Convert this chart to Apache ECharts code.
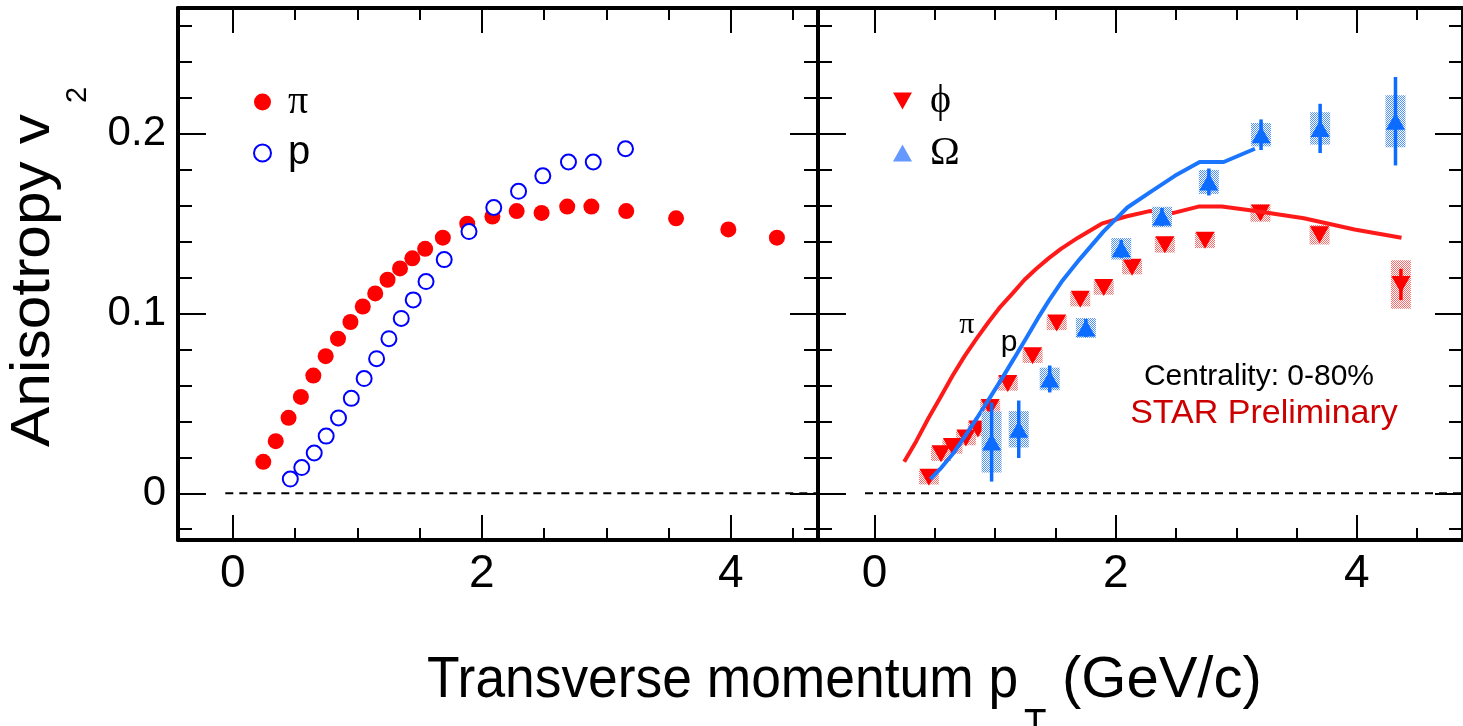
<!DOCTYPE html>
<html>
<head>
<meta charset="utf-8">
<script src="https://cdn.jsdelivr.net/npm/echarts@6/dist/echarts.min.js"></script>
<style>
  html, body { margin: 0; padding: 0; background: #fff; }
  #chart { width: 1463px; height: 726px; }
</style>
</head>
<body>
<div id="chart"></div>
<script>
// left panel: pion and proton v2 vs pT
const pionPt = [0.245, 0.345, 0.448, 0.547, 0.647, 0.746, 0.845, 0.945, 1.044, 1.144, 1.243, 1.343, 1.442, 1.545, 1.687, 1.883, 2.085, 2.28, 2.48, 2.686, 2.88, 3.16, 3.56, 3.98, 4.37];
const pionV2 = [0.0175, 0.029, 0.042, 0.0536, 0.0655, 0.0763, 0.086, 0.0953, 0.1039, 0.1112, 0.1188, 0.1251, 0.1307, 0.136, 0.1422, 0.150, 0.154, 0.157, 0.156, 0.1595, 0.1595, 0.157, 0.153, 0.1468, 0.1422];
const protonPt = [0.462, 0.554, 0.654, 0.75, 0.849, 0.952, 1.055, 1.155, 1.254, 1.353, 1.449, 1.552, 1.698, 1.897, 2.096, 2.295, 2.49, 2.696, 2.895, 3.154];
const protonV2 = [0.0079, 0.0143, 0.0224, 0.0318, 0.0419, 0.0528, 0.0638, 0.0749, 0.086, 0.0973, 0.1076, 0.1178, 0.130, 0.1456, 0.159, 0.168, 0.1766, 0.1843, 0.1843, 0.1917];

// right panel: phi and Omega v2 with stat / sys errors
const phiPt = [0.45, 0.55, 0.645, 0.757, 0.856, 0.958, 1.104, 1.31, 1.51, 1.705, 1.90, 2.135, 2.407, 2.74, 3.20, 3.69, 4.365];
const phiV2 = [0.0089, 0.022, 0.026, 0.0307, 0.0357, 0.0477, 0.0611, 0.0765, 0.0948, 0.108, 0.1145, 0.1258, 0.1383, 0.1408, 0.1559, 0.1438, 0.1162];
const phiStat = [0.002, 0.002, 0.002, 0.002, 0.002, 0.002, 0.002, 0.002, 0.002, 0.002, 0.002, 0.002, 0.002, 0.002, 0.002, 0.003, 0.0087];
const phiSys = [0.004, 0.004, 0.004, 0.004, 0.004, 0.004, 0.004, 0.004, 0.004, 0.004, 0.004, 0.004, 0.0044, 0.0044, 0.0048, 0.0054, 0.0135];
const omegaPt = [0.97, 1.195, 1.452, 1.752, 2.045, 2.383, 2.772, 3.205, 3.695, 4.32];
const omegaV2 = [0.0285, 0.0356, 0.0636, 0.092, 0.136, 0.1537, 0.1732, 0.1995, 0.203, 0.207];
const omegaStat = [0.022, 0.016, 0.0075, 0.005, 0.005, 0.005, 0.0075, 0.0085, 0.0137, 0.0246];
const omegaSys = [0.017, 0.0101, 0.0063, 0.0055, 0.006, 0.0057, 0.0067, 0.0065, 0.009, 0.0145];

// curve labels in the right panel
const curveLabelNames = ['π', 'p'];
const curveLabelPt = [0.764, 1.114];
const curveLabelV2 = [0.0936, 0.0836];

// ticks
const xMajorTicks = [0, 2, 4];
const xMinorTicks = [0.5, 1, 1.5, 2.5, 3, 3.5, 4.5];
const yMajorTicks = [0, 0.1, 0.2];
const yMinorTicks = [-0.02, 0.02, 0.04, 0.06, 0.08, 0.12, 0.14, 0.16, 0.18, 0.22, 0.24, 0.26];
const zeroLineLeft = [-0.06, 4.7];
const zeroLineRight = [-0.08, 4.88];

const Y_MIN = -0.026, Y_MAX = 0.27;
const SANS = '"Liberation Sans", Arial, sans-serif';
const SERIF = '"Liberation Serif", "DejaVu Serif", serif';

const zip = (a, b) => a.map((v, i) => [v, b[i]]);
const zip4 = (a, b, c, d) => a.map((v, i) => [v, b[i], c[i], d[i]]);

// 1px checkerboard fill like the ROOT hatched boxes
function checker(color) {
  const c = document.createElement('canvas');
  c.width = 2; c.height = 2;
  const ctx = c.getContext('2d');
  ctx.fillStyle = '#fff';
  ctx.fillRect(0, 0, 2, 2);
  ctx.fillStyle = color;
  ctx.fillRect(0, 0, 1, 1);
  ctx.fillRect(1, 1, 1, 1);
  return { image: c, repeat: 'repeat' };
}

const tickStyle = { color: '#000', width: 2 };
const frameLine = { show: true, onZero: false, lineStyle: { color: '#000', width: 4 } };

function xAxes(gridIndex, min, max) {
  const base = { type: 'value', gridIndex, min, max, splitLine: { show: false } };
  const major = { show: true, inside: true, length: 25, customValues: xMajorTicks, lineStyle: tickStyle };
  const minor = { show: true, inside: true, length: 12, customValues: xMinorTicks, lineStyle: tickStyle };
  return [
    { ...base, position: 'bottom', axisLine: frameLine, axisTick: major,
      axisLabel: { show: true, customValues: xMajorTicks, margin: 11, fontSize: 46, fontFamily: SANS, color: '#000' } },
    { ...base, position: 'bottom', axisLine: { show: false, onZero: false }, axisTick: minor, axisLabel: { show: false } },
    { ...base, position: 'top', axisLine: frameLine, axisTick: major, axisLabel: { show: false } },
    { ...base, position: 'top', axisLine: { show: false, onZero: false }, axisTick: minor, axisLabel: { show: false } }
  ];
}

function yAxes(gridIndex, withLabels) {
  const base = { type: 'value', gridIndex, min: Y_MIN, max: Y_MAX, splitLine: { show: false } };
  const major = { show: true, inside: true, length: 28, customValues: yMajorTicks, lineStyle: tickStyle };
  const minor = { show: true, inside: true, length: 14, customValues: yMinorTicks, lineStyle: tickStyle };
  return [
    { ...base, position: 'left', axisLine: frameLine, axisTick: major,
      axisLabel: { show: withLabels, customValues: yMajorTicks, margin: 12, fontSize: 42, fontFamily: SANS, color: '#000',
        formatter: v => (v === 0 ? '0' : v.toFixed(1)) } },
    { ...base, position: 'left', axisLine: { show: false, onZero: false }, axisTick: minor, axisLabel: { show: false } },
    { ...base, position: 'right', axisLine: frameLine, axisTick: major, axisLabel: { show: false } },
    { ...base, position: 'right', axisLine: { show: false, onZero: false }, axisTick: minor, axisLabel: { show: false } }
  ];
}

function zeroLine(xs, axisIdx) {
  return {
    type: 'line', xAxisIndex: axisIdx, yAxisIndex: axisIdx, silent: true, symbol: 'none', clip: true,
    data: xs.map(x => [x, 0]),
    lineStyle: { color: '#000', width: 2, type: [8, 6] }, z: 1
  };
}

function boxes(data, fill, z) {
  return {
    type: 'custom', xAxisIndex: 4, yAxisIndex: 4, silent: true, z,
    encode: { x: 0, y: 1 }, data,
    renderItem: (params, api) => {
      const x = api.value(0), y = api.value(1), s = api.value(3);
      const top = api.coord([x, y + s]);
      const bot = api.coord([x, y - s]);
      return { type: 'rect', shape: { x: top[0] - 10, y: top[1], width: 20, height: bot[1] - top[1] }, style: { fill } };
    }
  };
}

function bars(data, color, z) {
  return {
    type: 'custom', xAxisIndex: 4, yAxisIndex: 4, silent: true, z,
    encode: { x: 0, y: 1 }, data,
    renderItem: (params, api) => {
      const x = api.value(0), y = api.value(1), s = api.value(2);
      const top = api.coord([x, y + s]);
      const bot = api.coord([x, y - s]);
      return { type: 'line', shape: { x1: top[0], y1: top[1], x2: bot[0], y2: bot[1] }, style: { stroke: color, lineWidth: 3.5 } };
    }
  };
}

const phiData = zip4(phiPt, phiV2, phiStat, phiSys);
const omegaData = zip4(omegaPt, omegaV2, omegaStat, omegaSys);
const DOWN_TRI = 'path://M0,0L20,0L10,18Z';
const textStyle = (font, fill, align) => ({ text: '', font, fill, align, verticalAlign: 'middle', textAlign: align, textVerticalAlign: 'middle' });

const chart = echarts.init(document.getElementById('chart'), null, { renderer: 'canvas' });
chart.setOption({
  animation: false,
  backgroundColor: '#fff',
  grid: [
    { left: 178, top: 8, width: 640, height: 532 },
    { left: 818, top: 8, width: 658, height: 532 }
  ],
  xAxis: [...xAxes(0, -0.44, 4.7), ...xAxes(1, -0.47, 4.88)],
  yAxis: [...yAxes(0, true), ...yAxes(1, false)],
  legend: [
    {
      data: [{ name: 'π', icon: 'circle' }, { name: 'p', icon: 'circle' }],
      left: 248, top: 77, orient: 'vertical', itemWidth: 17, itemHeight: 17, itemGap: 11,
      selectedMode: false,
      formatter: n => (n === 'p' ? '{s|p}' : '{g|' + n + '}'),
      textStyle: { rich: {
        g: { fontFamily: SERIF, fontSize: 40, lineHeight: 40, padding: [0, 0, 0, 12], color: '#000' },
        s: { fontFamily: SANS, fontSize: 40, lineHeight: 40, padding: [0, 0, 0, 12], color: '#000' }
      } }
    },
    {
      data: [{ name: 'ϕ', icon: DOWN_TRI }, { name: 'Ω', icon: 'triangle', itemStyle: { color: '#6699ff' } }],
      left: 888, top: 76, orient: 'vertical', itemWidth: 19, itemHeight: 17, itemGap: 12,
      selectedMode: false,
      formatter: n => '{g|' + n + '}',
      textStyle: { rich: {
        g: { fontFamily: SERIF, fontSize: 40, lineHeight: 40, padding: [0, 0, 0, 13], color: '#000' }
      } }
    }
  ],
  graphic: [
    { type: 'group', x: 33.5, y: 447, rotation: Math.PI / 2, children: [
      { type: 'text', x: 0, y: 0, scaleX: 1.1, style: { ...textStyle('55px ' + SANS, '#000', 'left'), text: 'Anisotropy v' } },
      { type: 'text', x: 344, y: 44, style: { ...textStyle('29px ' + SANS, '#000', 'left'), text: '2' } }
    ] },
    { type: 'text', x: 427, y: 681, scaleX: 0.92, style: { ...textStyle('58px ' + SANS, '#000', 'left'), text: 'Transverse momentum p' } },
    { type: 'text', x: 1024, y: 726, scaleX: 0.92, style: { ...textStyle('40px ' + SANS, '#000', 'left'), text: 'T' } },
    { type: 'text', x: 1062, y: 681, scaleX: 1.0, style: { ...textStyle('58px ' + SANS, '#000', 'left'), text: '(GeV/c)' } },
    { type: 'text', x: 1259, y: 377, style: { ...textStyle('30px ' + SANS, '#000', 'center'), text: 'Centrality: 0-80%' } },
    { type: 'text', x: 1264, y: 414, style: { ...textStyle('34px ' + SANS, '#cc0000', 'center'), text: 'STAR Preliminary' } }
  ],
  series: [
    zeroLine(zeroLineLeft, 0),
    {
      name: 'π', type: 'scatter', xAxisIndex: 0, yAxisIndex: 0, symbol: 'circle', symbolSize: 16,
      itemStyle: { color: '#ff0000', opacity: 1 }, data: zip(pionPt, pionV2), z: 3
    },
    {
      name: 'p', type: 'scatter', xAxisIndex: 0, yAxisIndex: 0, symbol: 'circle', symbolSize: 15,
      itemStyle: { color: '#ffffff', borderColor: '#0000ff', borderWidth: 2, opacity: 1 }, data: zip(protonPt, protonV2), z: 4
    },

    zeroLine(zeroLineRight, 4),
    boxes(phiData, checker('#ff6a6a'), 2),
    bars(phiData, '#ff0000', 3),
    {
      name: 'ϕ', type: 'scatter', xAxisIndex: 4, yAxisIndex: 4, symbol: DOWN_TRI, symbolSize: [19, 17],
      itemStyle: { color: '#ff0000', opacity: 1 }, data: phiData.map(d => [d[0], d[1]]), z: 4
    },
    {
      name: 'π model', type: 'line', xAxisIndex: 4, yAxisIndex: 4, symbol: 'none', silent: true,
      lineStyle: { color: '#ff1a1a', width: 4 }, data: zip(pionPt, pionV2), z: 5
    },
    {
      name: 'p model', type: 'line', xAxisIndex: 4, yAxisIndex: 4, symbol: 'none', silent: true,
      lineStyle: { color: '#1a75ff', width: 4 }, data: zip(protonPt, protonV2), z: 5
    },
    boxes(omegaData, checker('#4d8fff'), 6),
    bars(omegaData, '#0b6cff', 7),
    {
      name: 'Ω', type: 'scatter', xAxisIndex: 4, yAxisIndex: 4, symbol: 'triangle', symbolSize: [19, 17],
      itemStyle: { color: '#0b6cff', opacity: 1 }, data: omegaData.map(d => [d[0], d[1]]), z: 8
    },
    {
      name: 'labels', type: 'scatter', xAxisIndex: 4, yAxisIndex: 4, symbolSize: 0, silent: true, z: 9,
      itemStyle: { opacity: 1 },
      data: curveLabelNames.map((n, i) => ({
        name: n, value: [curveLabelPt[i], curveLabelV2[i]],
        label: n === 'π' ? { fontFamily: SERIF, fontSize: 30 } : { fontFamily: SANS, fontSize: 30 }
      })),
      label: { show: true, position: 'inside', formatter: '{b}', color: '#000' }
    }
  ]
});
</script>
</body>
</html>
